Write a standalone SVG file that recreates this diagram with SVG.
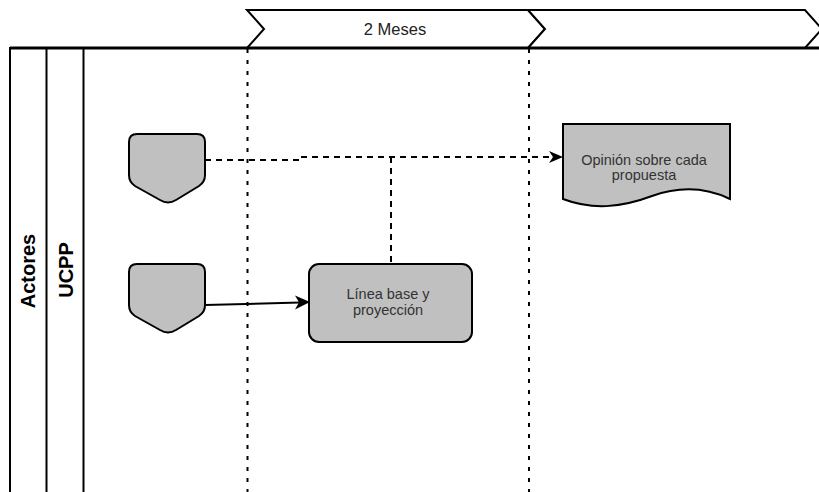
<svg xmlns="http://www.w3.org/2000/svg" width="819" height="492" viewBox="0 0 819 492">
<style>
.sh{fill:#c0c0c0;stroke:#000;stroke-width:2}
.ln{fill:none;stroke:#000;stroke-width:2}
.t{font-family:"Liberation Sans",Arial,sans-serif;font-size:14.5px;fill:#333;text-anchor:middle}
.lb{font-family:"Liberation Sans",Arial,sans-serif;font-size:20px;font-weight:bold;fill:#000;text-anchor:middle}
.dsh{fill:none;stroke:#000;stroke-width:2;stroke-dasharray:6 5}
.vd{fill:none;stroke:#000;stroke-width:2;stroke-dasharray:4 7}
</style>
<rect width="819" height="492" fill="#fff"/>
<g id="timeline">
<path class="ln" d="M247,10 H528 L545,29 L528,48 H247 L264,29 Z" style="fill:#fff"/>
<path class="ln" d="M528,10 H805 L822,29 L805,48 H528 L545,29 Z" style="fill:#fff"/>
<text class="t" x="395" y="35" style="font-size:16.5px;fill:#222">2 Meses</text>
</g>
<g id="pool">
<path class="ln" d="M10,492 V48 H819"/>
<line class="ln" x1="46.5" y1="48" x2="46.5" y2="492"/>
<line class="ln" x1="83.5" y1="48" x2="83.5" y2="492"/>
<line x1="10" y1="48" x2="819" y2="48" stroke="#000" stroke-width="3"/>
<text class="lb" transform="translate(35,271) rotate(-90)">Actores</text>
<text class="lb" transform="translate(72.5,270) rotate(-90)">UCPP</text>
</g>
<g id="separators">
<line class="vd" x1="247.5" y1="49" x2="247.5" y2="492"/>
<line class="vd" x1="529" y1="49" x2="529" y2="492"/>
</g>
<g id="connectors">
<path class="dsh" d="M205,160 H300 V157 H553"/>
<polygon points="563,157 549,151 553,157 549,163" fill="#000"/>
<path class="dsh" d="M391,157 V264"/>
<path class="ln" d="M205,305 L300,302.5"/>
<polygon points="310,302 295,295.5 299,302.3 295,309.5" fill="#000"/>
</g>
<g id="conn1">
<path class="sh" d="M137,134 H197 Q205,134 205,142 V175 Q205,182 199,186 L176,200 Q168,205 160,200 L135,186 Q129,182 129,175 V142 Q129,134 137,134 Z"/>
</g>
<g id="conn2">
<path class="sh" d="M137,264 H197 Q205,264 205,272 V305 Q205,312 199,316 L176,330 Q168,335 160,330 L135,316 Q129,312 129,305 V272 Q129,264 137,264 Z"/>
</g>
<g id="linea">
<rect class="sh" x="309" y="264" width="163" height="78" rx="10"/>
<text class="t" x="388" y="299">Línea base y</text>
<text class="t" x="388" y="314.5">proyección</text>
</g>
<g id="opinion">
<path class="sh" d="M563,124 H730 V199 C705,187 680,186 652,196 C620,208 592,210 563,199 Z"/>
<text class="t" x="644" y="165">Opinión sobre cada</text>
<text class="t" x="644" y="180">propuesta</text>
</g>
</svg>
